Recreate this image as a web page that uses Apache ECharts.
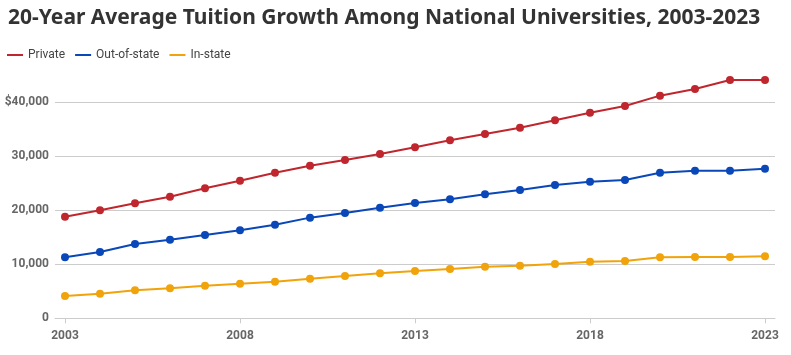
<!DOCTYPE html>
<html><head><meta charset="utf-8">
<script src="https://cdn.jsdelivr.net/npm/echarts@6/dist/echarts.min.js"></script>
<style>html,body{margin:0;padding:0;background:#fff}#c{width:791px;height:355px}</style>
</head><body><div id="c"></div>
<script>
const years = [2003,2004,2005,2006,2007,2008,2009,2010,2011,2012,2013,2014,2015,2016,2017,2018,2019,2020,2021,2022,2023];
const privateTuition = [18800,20000,21300,22500,24070,25480,26960,28260,29310,30420,31660,32960,34130,35300,36670,38070,39310,41230,42460,44130,44130];
const outOfState = [11300,12280,13760,14560,15430,16300,17340,18640,19500,20480,21350,22040,22960,23760,24690,25270,25610,26970,27340,27340,27700];
const inState = [4130,4560,5180,5550,6040,6410,6780,7340,7830,8330,8760,9130,9560,9740,10060,10480,10600,11300,11350,11350,11480];
const xTickValues = [2003,2008,2013,2018,2023];
const yTickValues = [0,10000,20000,30000,40000];
const yTickLabels = ['0','10,000','20,000','30,000','$40,000'];
const seriesNames = ['Private','Out-of-state','In-state'];
const colors = ['#c0262d','#0a47b8','#f0a30a'];

const chart = echarts.init(document.getElementById('c'));
const pad = 10 / 35; // years of padding on each side of the plot
const mk = (name, vals, color) => ({
  name, type: 'line', data: years.map((y, i) => [y, vals[i]]), color,
  symbol: 'circle', symbolSize: 8,
  lineStyle: {width: 2, color}, itemStyle: {color},
  emphasis: {disabled: true}
});
chart.setOption({
  animation: false,
  title: {
    text: '20-Year Average Tuition Growth Among National Universities, 2003-2023',
    left: 3, top: 3,
    textStyle: {fontFamily: 'Noto Sans', fontWeight: 'bold', fontSize: 21, color: '#333'}
  },
  legend: {
    left: 2, top: 44, itemWidth: 16, itemHeight: 2, itemGap: 10,
    icon: 'rect',
    textStyle: {fontFamily: 'Roboto', fontSize: 12, color: '#444'},
    data: seriesNames
  },
  grid: {left: 55, right: 16, top: 75.3, bottom: 36.7, containLabel: false},
  xAxis: {
    type: 'value', min: years[0] - pad, max: years[years.length - 1] + pad,
    axisLine: {show: true, onZero: false, lineStyle: {color: '#ccc'}},
    axisTick: {show: true, customValues: xTickValues, length: 5, lineStyle: {color: '#ccc'}},
    axisLabel: {customValues: xTickValues, margin: 12, fontFamily: 'Roboto', fontWeight: 'bold', fontSize: 12, color: '#666', formatter: v => String(v)},
    splitLine: {show: false}
  },
  yAxis: {
    type: 'value', min: 0, max: 45000, interval: 10000,
    axisLine: {show: false}, axisTick: {show: false},
    axisLabel: {
      margin: 6, fontFamily: 'Roboto', fontWeight: 'bold', fontSize: 12, color: '#666',
      formatter: v => { const i = yTickValues.indexOf(v); return i >= 0 ? yTickLabels[i] : ''; }
    },
    splitLine: {lineStyle: {color: ['#ccc','#ccc','#ccc','#ccc','#ccc','rgba(0,0,0,0)'], width: 1}}
  },
  series: [
    mk(seriesNames[0], privateTuition, colors[0]),
    mk(seriesNames[1], outOfState, colors[1]),
    mk(seriesNames[2], inState, colors[2])
  ]
});
</script></body></html>
